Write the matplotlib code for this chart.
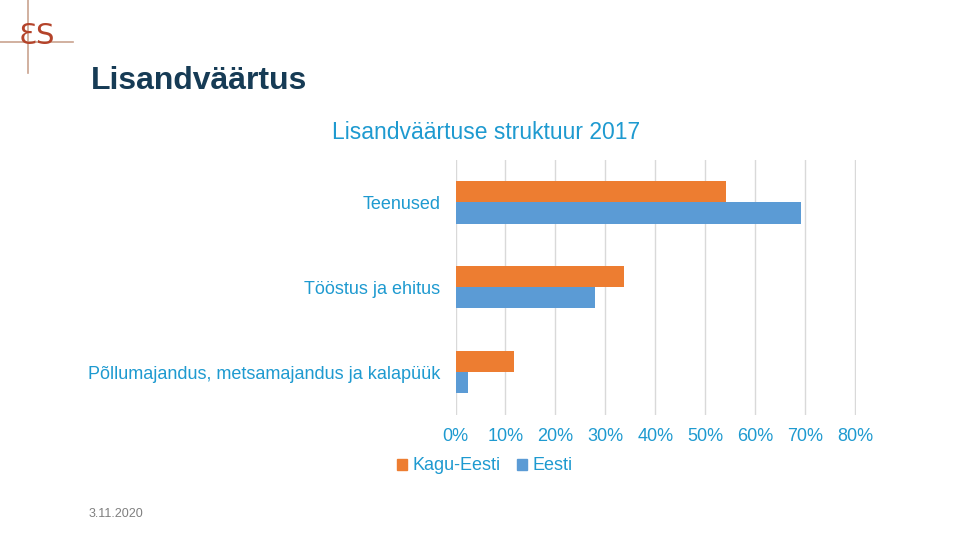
import matplotlib
matplotlib.use("Agg")
import matplotlib.pyplot as plt
from matplotlib.lines import Line2D
from matplotlib.patches import Patch
import numpy as np

categories = ["Teenused", "Tööstus ja ehitus", "Põllumajandus, metsamajandus ja kalapüük"]
kagu_eesti = [54.2, 33.8, 11.7]
eesti = [69.2, 28.0, 2.5]
series_names = ["Kagu-Eesti", "Eesti"]
xticks = [0, 10, 20, 30, 40, 50, 60, 70, 80]

ORANGE = "#ED7D31"
BLUE = "#5B9BD5"
TXT = "#1E9AD0"
NAVY = "#163B55"

plt.rcParams['font.family'] = ['Liberation Sans', 'DejaVu Sans']

fig = plt.figure(figsize=(9.6, 5.4), dpi=100)
ax = fig.add_axes([455.5/960, 1-414.5/540, (856-455.5)/960, (414.5-160)/540])

y = np.arange(len(categories))
h = 0.25
ax.barh(y - h/2, kagu_eesti, height=h, color=ORANGE, label=series_names[0], zorder=3)
ax.barh(y + h/2, eesti, height=h, color=BLUE, label=series_names[1], zorder=3)
ax.set_ylim(len(categories) - 0.5, -0.5)
ax.set_xlim(0, 80.2)
ax.set_xticks(xticks)
ax.set_xticklabels([f"{t}%" for t in xticks], color=TXT, fontsize=13)
ax.set_yticks(y)
ax.set_yticklabels(categories, color=TXT, fontsize=13)
ax.tick_params(axis='both', length=0)
ax.tick_params(axis='x', pad=10)
ax.tick_params(axis='y', pad=11)
ax.grid(axis='x', color="#D9D9D9", linewidth=1, zorder=0)
for s in ax.spines.values():
    s.set_visible(False)

handles = [Patch(color=ORANGE), Patch(color=BLUE)]
fig.legend(handles, series_names, loc='center', bbox_to_anchor=(485/960, 1-466/540),
           ncol=2, frameon=False, fontsize=13, labelcolor=TXT,
           handlelength=0.55, handleheight=0.55, handletextpad=0.3, columnspacing=0.9)

fig.text(486/960, 1-133/540, "Lisandväärtuse struktuur 2017", color=TXT,
         fontsize=16.5, ha='center', va='center')
fig.text(91/960, 1-81/540, "Lisandväärtus", color=NAVY, fontsize=23,
         fontweight='bold', ha='left', va='center')
fig.text(89/960, 1-514/540, "3.11.2020", color="#7F7F7F", fontsize=9,
         ha='left', va='center')

# logo
fig.add_artist(Line2D([0, 73/960], [1-42/540, 1-42/540], color="#C9A38F", lw=1.2))
fig.add_artist(Line2D([28/960, 28/960], [1, 1-73/540], color="#C9A38F", lw=1.2))
fig.text(37/960, 1-36/540, "ƐS", color="#B4432A", fontsize=21,
         family=['DejaVu Sans'], ha='center', va='center')

fig.savefig("out.png", dpi=100)
